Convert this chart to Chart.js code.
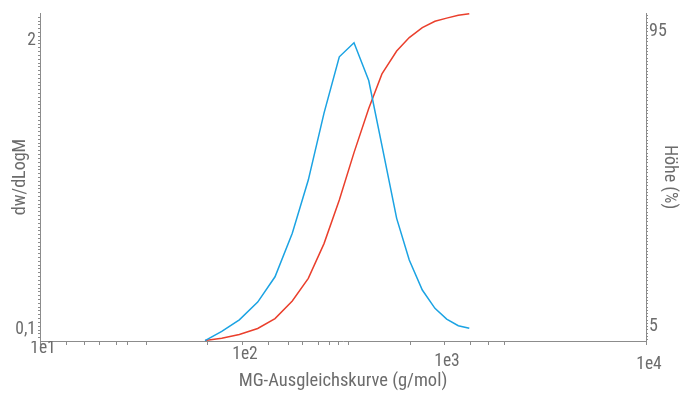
<!DOCTYPE html>
<html>
<head>
<meta charset="utf-8">
<script src="https://cdn.jsdelivr.net/npm/chart.js@4"></script>
<style>
  html, body { margin: 0; padding: 0; background: #fff; }
  #wrap { width: 696px; height: 395px; }
</style>
</head>
<body>
<div id="wrap"><canvas id="c"></canvas></div>
<script>
// MG-Ausgleichskurve: dw/dLogM (links) und Höhe % (rechts)
const mass = [65.6, 79.4, 97.0, 119.6, 145.7, 177.4, 212.9, 254.7, 303.2, 358.5, 424, 493, 583, 673, 781, 902, 1031, 1177, 1334];
const dwdlogm = [0.030, 0.091, 0.167, 0.283, 0.449, 0.734, 1.083, 1.522, 1.891, 1.983, 1.735, 1.308, 0.832, 0.559, 0.362, 0.242, 0.172, 0.128, 0.111];
const hoehe = [0.79, 1.49, 2.62, 4.45, 7.50, 12.84, 19.77, 30.38, 43.71, 58.17, 71.66, 82.21, 89.17, 93.29, 96.34, 98.26, 99.24, 100.1, 100.6];

const xTickValues = [10, 100, 1000, 10000];
const xTickLabels = ['1e1', '1e2', '1e3', '1e4'];
const xMinorTicks = [13.5, 16.7, 19.6, 23.8, 27, 33.5, 67.6, 134.5, 169, 200, 238, 270, 299, 335, 679, 1346, 1670, 2004];
const leftTickValues = [0.1, 2];
const leftTickLabels = ['0,1', '2'];
const rightTickValues = [5, 95];
const rightTickLabels = ['5', '95'];

const FONT = "'Roboto Condensed', Roboto, sans-serif";
const GREY = '#8c8c8c';
const TEXT = '#6c6c6c';
// etwas versetzte Beschriftung wie im Original
const xLabelDrop = { 10: '8px', 100: '20px', 1000: '34px', 10000: '40px' };

function labelFor(values, labels, v) {
  for (let i = 0; i < values.length; i++) {
    if (Math.abs(values[i] - v) < 1e-6) return labels[i];
  }
  return '';
}

new Chart(document.getElementById('c'), {
  type: 'line',
  data: {
    datasets: [{
      label: 'dw/dLogM',
      data: mass.map((m, i) => ({ x: m, y: dwdlogm[i] })),
      borderColor: '#1ba3e3',
      borderWidth: 1.5,
      pointRadius: 0,
      tension: 0,
      yAxisID: 'y',
      clip: false
    }, {
      label: 'Höhe (%)',
      data: mass.map((m, i) => ({ x: m, y: hoehe[i] })),
      borderColor: '#ea3f2c',
      borderWidth: 1.5,
      pointRadius: 0,
      tension: 0,
      yAxisID: 'y1',
      clip: false
    }]
  },
  options: {
    responsive: true,
    maintainAspectRatio: false,
    animation: false,
    layout: { padding: { top: 13, left: 0, right: 0, bottom: 0 } },
    plugins: { legend: { display: false }, tooltip: { enabled: false } },
    scales: {
      x: {
        type: 'logarithmic',
        min: 10,
        max: 10000,
        border: { color: GREY, width: 1 },
        grid: { drawOnChartArea: false, tickLength: 4, tickColor: GREY },
        afterBuildTicks: s => {
          s.ticks = xTickValues.concat(xMinorTicks).sort((a, b) => a - b).map(v => ({ value: v }));
        },
        afterFit: s => { s.height = 54; s.paddingLeft = 0; s.paddingRight = 0; },
        ticks: {
          autoSkip: false,
          maxRotation: 0,
          padding: 0,
          labelOffset: 3,
          color: TEXT,
          font: ctx => ({ family: FONT, size: 17.5, lineHeight: (ctx.tick && xLabelDrop[ctx.tick.value]) || '20px' }),
          callback: v => labelFor(xTickValues, xTickLabels, v)
        },
        title: {
          display: true,
          text: 'MG-Ausgleichskurve (g/mol)',
          color: TEXT,
          font: { family: FONT, size: 18.5 },
          padding: { top: 0, bottom: 3 }
        }
      },
      y: {
        position: 'left',
        min: 0.028,
        max: 2.178,
        border: { color: GREY, width: 1 },
        grid: { drawOnChartArea: false, tickLength: 2, tickColor: GREY },
        afterBuildTicks: s => {
          const t = [];
          for (let k = 2; k <= 86; k++) t.push({ value: Math.round(k * 25) / 1000 });
          s.ticks = t;
        },
        afterFit: s => { s.width = 40; s.paddingTop = 0; s.paddingBottom = 0; },
        ticks: {
          autoSkip: false,
          padding: 2,
          color: TEXT,
          font: { family: FONT, size: 17.5 },
          callback: v => labelFor(leftTickValues, leftTickLabels, v)
        },
        title: {
          display: true,
          text: 'dw/dLogM',
          color: TEXT,
          font: { family: FONT, size: 18 },
          padding: { top: 10, bottom: 0 }
        }
      },
      y1: {
        position: 'right',
        min: 0.64,
        max: 100.8,
        border: { color: GREY, width: 1 },
        grid: { drawOnChartArea: false, tickLength: 2, tickColor: GREY },
        afterBuildTicks: s => {
          const t = [];
          for (let k = 1; k <= 100; k++) t.push({ value: k });
          s.ticks = t;
        },
        afterFit: s => { s.width = 50; s.paddingTop = 0; s.paddingBottom = 0; },
        ticks: {
          autoSkip: false,
          padding: 1,
          color: TEXT,
          font: { family: FONT, size: 18 },
          callback: v => labelFor(rightTickValues, rightTickLabels, v)
        },
        title: {
          display: true,
          text: 'Höhe (%)',
          color: TEXT,
          font: { family: FONT, size: 18 },
          padding: { top: 16, bottom: 0 }
        }
      }
    }
  }
});
</script>
</body>
</html>
